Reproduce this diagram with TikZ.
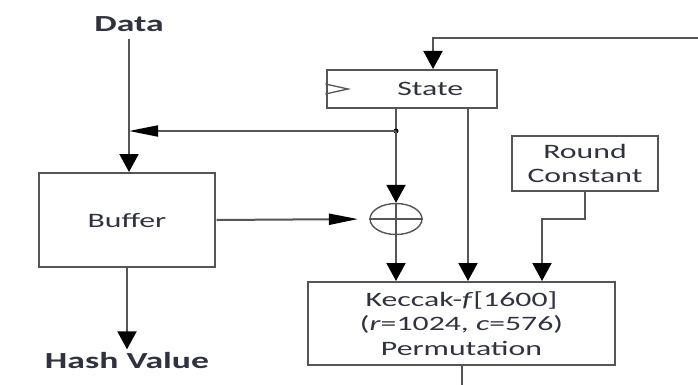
\documentclass[tikz,border=0pt]{standalone}
\usepackage{fontspec}
\setmainfont{Carlito}
\usetikzlibrary{arrows.meta, calc, shapes.geometric}
\definecolor{linegray}{RGB}{85,85,85}
\definecolor{textgray}{RGB}{48,50,64}

\begin{document}
\begin{tikzpicture}[x=1pt, y=-1pt,
        every node/.style={text=textgray, font=\fontsize{20.5}{24.5}\selectfont, xscale=1.55},
        box/.style={draw=linegray, line width=2pt, align=center, inner sep=0pt},
        wire/.style={draw=linegray, line width=2pt},
        vtip/.style={wire, -{Triangle[length=18pt, width=19pt, color=black]}},
        htip/.style={wire, -{Triangle[length=29pt, width=11pt, color=black]}},
        title/.style={font=\fontsize{23}{27}\selectfont\bfseries}]
        \useasboundingbox (0,0) rectangle (698,385);

        \node[title] (data) at (129,24) {Data};
        \node[box, minimum width=109.7pt, minimum height=38pt] (state) at (412,89) {\hspace{1.15em}State};
        \node[box, minimum width=113.5pt, minimum height=94pt] (buffer) at (127,220) {Buffer};
        \node[box, minimum width=94.2pt, minimum height=55pt] (rc) at (585,163.5) {Round\\Constant};
        \node[box, minimum width=198pt, minimum height=83pt] (keccak) at (461.5,323.5)
            {Keccak-\textit{f}[1600]\\(\textit{r}=1024, \textit{c}=576)\\Permutation};
        \node[title] (hash) at (127,361) {Hash Value};
        \node[draw=linegray, line width=1.4pt, ellipse, minimum width=33.5pt, minimum height=31pt, inner sep=0pt] (xor) at (396,219) {};
        \draw[linegray, line width=1.4pt] (xor.west) -- (xor.east);
        \draw[linegray, line width=1.4pt] (xor.north) -- (xor.south);

        \coordinate (split) at (396,131);
        \coordinate (join) at (129,131);
        \coordinate (topright) at (698,38);
        \coordinate (topleft) at (433,38);
        \coordinate (rclevel) at (0,219);
        \coordinate (bottom) at (0,385);

        \draw[linegray, line width=1.3pt] (state.west) ++(0,5) -- (348,89) -- ($(state.west)+(0,-5)$);

        \draw[vtip] ([yshift=-4pt]data.south) -- (data.south |- buffer.north);
        \draw[vtip] (topright) -- (topleft) -- (state.north -| topleft);
        \draw[wire] (state.south -| split) -- (split);
        \fill[black] (split) circle (2.5pt);
        \draw[htip] (split) -- (join);
        \draw[vtip] (split) -- (xor.north);
        \draw[vtip] (xor.south) -- (keccak.north -| xor.south);
        \draw[vtip] ([xshift=56pt]state.south) -- ([xshift=56pt]state.south |- keccak.north);
        \draw[htip, shorten >=11pt] (buffer.east) -- (xor.west);
        \draw[vtip] (buffer.south) -- (hash.north);
        \draw[vtip] (rc.south) -- (rc.south |- rclevel) -| ([xshift=80.5pt]keccak.north);
        \draw[wire] (keccak.south) -- (keccak.south |- bottom);
    \end{tikzpicture}
\end{document}
